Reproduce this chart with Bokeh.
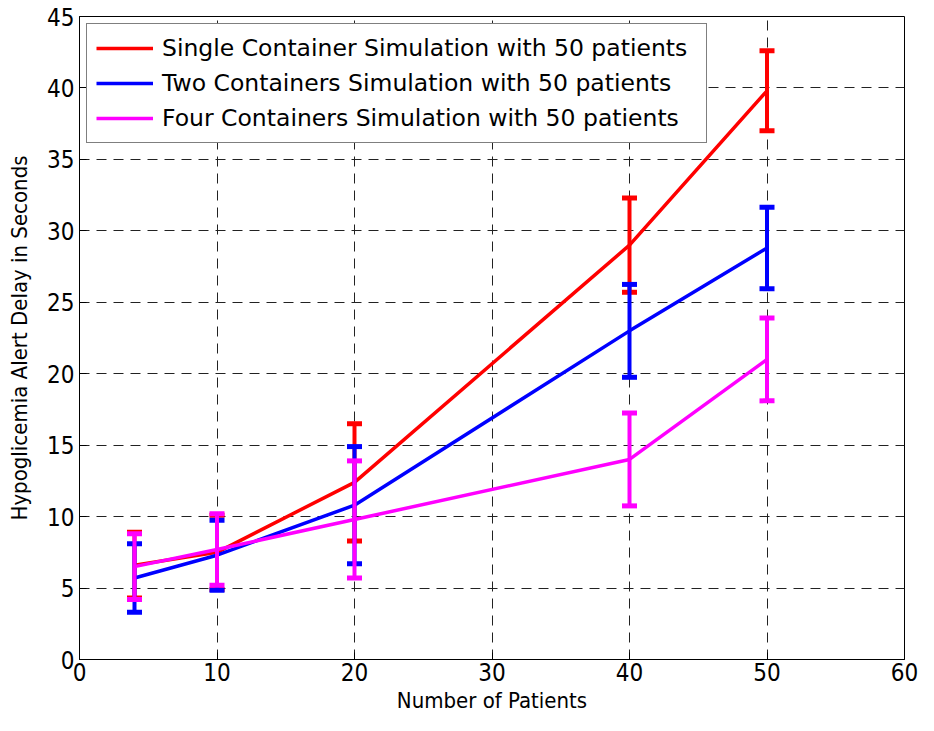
from bokeh.plotting import figure
from bokeh.models import FixedTicker, Legend, LegendItem, Range1d
from bokeh.embed import file_html
from bokeh.resources import INLINE

# ---- data ----
patients = [4, 10, 20, 40, 50]
single = [6.6, 7.5, 12.4, 29.0, 39.8]
single_err = [2.3, 2.6, 4.1, 3.3, 2.8]
two = [5.7, 7.3, 10.8, 23.0, 28.8]
two_err = [2.4, 2.45, 4.1, 3.25, 2.85]
four = [6.5, 7.7, 9.8, 14.0, 21.0]
four_err = [2.3, 2.5, 4.1, 3.25, 2.9]

series_labels = [
    "Single Container Simulation with 50 patients",
    "Two Containers Simulation with 50 patients",
    "Four Containers Simulation with 50 patients",
]
x_ticks = [0, 10, 20, 30, 40, 50, 60]
y_ticks = [0, 5, 10, 15, 20, 25, 30, 35, 40, 45]

colors = ["#ff0000", "#0000ff", "#ff00ff"]

TICK_FONT = "DejaVu Sans Condensed, DejaVu Sans"

p = figure(width=918, height=715, output_backend="svg", toolbar_location=None,
           x_range=Range1d(0, 60), y_range=Range1d(0, 45),
           min_border_left=79, min_border_right=14, min_border_top=16,
           min_border_bottom=56)

p.outline_line_color = "black"
p.outline_line_width = 1
p.background_fill_color = "white"
p.border_fill_color = "white"

for ax in (p.xaxis[0], p.yaxis[0]):
    ax.major_tick_in = 7
    ax.major_tick_out = 0
    ax.minor_tick_line_color = None
    ax.axis_line_color = "black"
    ax.major_tick_line_color = "black"
    ax.major_label_text_font = TICK_FONT
    ax.major_label_text_font_size = "24px"
    ax.major_label_text_color = "black"
    ax.axis_label_text_font = TICK_FONT
    ax.axis_label_text_font_size = "22px"
    ax.axis_label_text_font_style = "normal"
    ax.axis_label_text_color = "black"

p.xaxis.ticker = FixedTicker(ticks=x_ticks)
p.yaxis.ticker = FixedTicker(ticks=y_ticks)
p.xaxis.axis_label = "Number of Patients"
p.yaxis.axis_label = "Hypoglicemia Alert Delay in Seconds"
p.xaxis.major_label_standoff = 3
p.yaxis.major_label_standoff = 5
p.xaxis.axis_label_standoff = 4
p.yaxis.axis_label_standoff = 12

for g in (p.xgrid[0], p.ygrid[0]):
    g.grid_line_color = "#222222"
    g.grid_line_dash = "10 7"
    g.grid_line_width = 1
p.xgrid.ticker = FixedTicker(ticks=x_ticks)
p.ygrid.ticker = FixedTicker(ticks=y_ticks)

legend_items = []
for vals, errs, col, lab in zip([single, two, four], [single_err, two_err, four_err],
                                colors, series_labels):
    upper = [v + e for v, e in zip(vals, errs)]
    lower = [v - e for v, e in zip(vals, errs)]
    ln = p.line(patients, vals, line_color=col, line_width=3.5)
    p.segment(x0=patients, y0=lower, x1=patients, y1=upper, line_color=col, line_width=4)
    p.scatter(patients, upper, marker="dash", size=15, line_color=col, line_width=5)
    p.scatter(patients, lower, marker="dash", size=15, line_color=col, line_width=5)
    legend_items.append(LegendItem(label=lab, renderers=[ln]))

legend = Legend(items=legend_items, location="top_left")
legend.margin = 7
legend.padding = 9
legend.spacing = 5
legend.glyph_width = 57
legend.glyph_height = 30
legend.label_height = 30
legend.label_standoff = 9
legend.label_width = 535
legend.label_text_font = "DejaVu Sans"
legend.label_text_font_size = "23.5px"
legend.label_text_color = "black"
legend.border_line_color = "black"
legend.border_line_width = 1
legend.background_fill_color = "white"
legend.background_fill_alpha = 1
p.add_layout(legend, "center")

open("out.html", "w").write(file_html(p, INLINE))
